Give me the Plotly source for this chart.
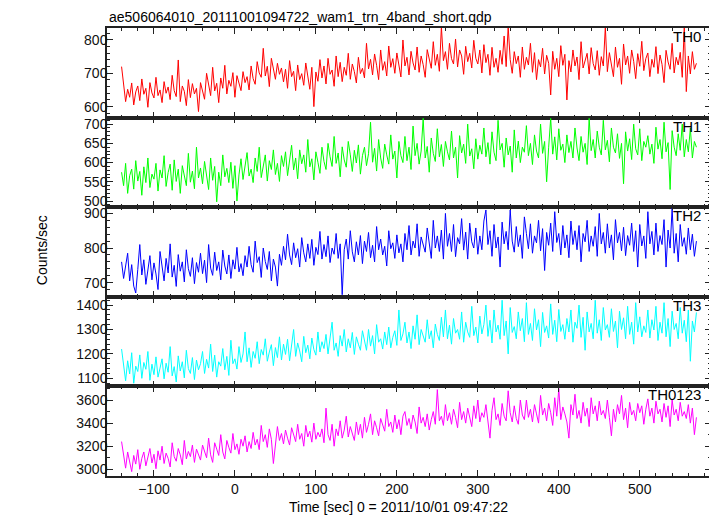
import plotly.graph_objects as go

# ---- data (2.5 s bins, t = -140 ... 570) ----
time_start = -140.0
time_step = 2.5
n_bins = 285
time = [time_start + time_step * i for i in range(n_bins)]

th0 = [720, 668, 615, 652, 628, 671, 605, 644, 662, 618, 683, 637, 655, 598, 672, 641, 626, 688, 633, 650,
       612, 675, 640, 659, 621, 694, 648, 630, 740, 615, 662, 646, 603, 681, 627, 669, 638, 655, 585, 672,
       648, 622, 700, 659, 633, 718, 647, 670, 612, 686, 655, 724, 638, 679, 661, 702, 628, 693, 667, 648,
       705, 672, 690, 650, 722, 684, 667, 735, 701, 688, 775, 692, 721, 660, 745, 708, 682, 730, 697, 716,
       674, 712, 655, 738, 690, 706, 648, 725, 681, 699, 664, 731, 693, 652, 718, 600, 704, 676, 741, 686,
       722, 668, 745, 697, 710, 661, 752, 690, 733, 675, 718, 694, 760, 682, 728, 705, 671, 748, 699, 715,
       686, 790, 713, 742, 695, 758, 724, 681, 770, 709, 735, 692, 782, 718, 744, 700, 761, 727, 689, 800,
       722, 748, 695, 766, 731, 710, 779, 703, 752, 726, 688, 771, 739, 715, 795, 724, 757, 706, 840, 738,
       765, 712, 790, 744, 728, 803, 719, 770, 752, 697, 781, 735, 760, 716, 799, 745, 728, 770, 701, 786,
       732, 757, 694, 778, 718, 745, 703, 769, 727, 812, 720, 840, 741, 700, 765, 729, 752, 688, 779, 712,
       748, 725, 790, 703, 762, 681, 741, 719, 775, 698, 754, 730, 635, 766, 712, 745, 690, 783, 724, 757,
       620, 738, 704, 770, 722, 749, 681, 795, 716, 742, 760, 698, 777, 729, 710, 768, 694, 750, 722, 840,
       705, 762, 731, 690, 779, 718, 745, 667, 788, 725, 752, 700, 770, 736, 684, 759, 721, 796, 708, 744,
       761, 690, 742, 718, 780, 699, 755, 727, 672, 769, 734, 712, 790, 701, 748, 725, 763, 688, 840, 645,
       752, 698, 765, 712, 730]

th1 = [575, 540, 598, 520, 566, 583, 531, 605, 552, 577, 515, 589, 548, 612, 535, 570, 557, 598, 526, 581,
       560, 618, 538, 574, 596, 528, 607, 551, 583, 520, 592, 565, 540, 624, 549, 578, 532, 640, 560, 586,
       545, 603, 571, 530, 612, 554, 590, 498, 575, 540, 620, 563, 585, 548, 601, 533, 592, 500, 568, 610,
       556, 594, 626, 565, 583, 548, 612, 577, 640, 561, 595, 620, 552, 605, 582, 633, 569, 598, 551, 618,
       590, 628, 566, 605, 645, 581, 612, 558, 633, 597, 620, 575, 660, 589, 610, 555, 628, 601, 572, 640,
       603, 582, 650, 615, 590, 668, 598, 625, 563, 641, 607, 588, 655, 620, 577, 632, 599, 646, 570, 618,
       640, 592, 623, 705, 601, 637, 578, 660, 612, 585, 648, 620, 596, 672, 609, 630, 560, 655, 618, 600,
       668, 605, 640, 582, 695, 618, 650, 596, 630, 715, 612, 642, 575, 664, 624, 603, 688, 615, 647, 590,
       655, 628, 607, 682, 612, 640, 560, 670, 625, 648, 598, 700, 617, 636, 584, 662, 609, 645, 622, 690,
       615, 652, 596, 680, 627, 605, 710, 633, 650, 588, 664, 620, 643, 575, 685, 612, 656, 600, 640, 627,
       696, 618, 650, 595, 672, 630, 612, 700, 624, 655, 550, 640, 715, 622, 667, 607, 688, 632, 648, 600,
       672, 626, 655, 612, 690, 638, 605, 668, 627, 650, 595, 715, 631, 660, 612, 682, 640, 620, 710, 633,
       658, 602, 690, 640, 625, 675, 611, 650, 545, 680, 630, 662, 608, 700, 636, 620, 688, 605, 655, 640,
       670, 622, 648, 598, 692, 635, 660, 610, 705, 628, 652, 530, 683, 640, 618, 675, 632, 700, 615, 660,
       628, 690, 612, 655, 640]

th2 = [760, 712, 748, 785, 705, 752, 690, 670, 738, 810, 722, 766, 695, 745, 778, 708, 757, 725, 680, 790,
       742, 705, 770, 728, 812, 716, 750, 689, 781, 733, 760, 702, 795, 740, 718, 772, 697, 758, 730, 785,
       726, 765, 700, 810, 742, 721, 788, 735, 760, 708, 794, 748, 725, 780, 712, 766, 739, 802, 731, 755,
       720, 778, 745, 805, 752, 730, 820, 758, 775, 715, 800, 761, 738, 790, 705, 768, 745, 690, 782, 750,
       805, 766, 840, 780, 752, 815, 772, 798, 745, 830, 786, 760, 812, 770, 825, 750, 802, 781, 848, 768,
       810, 775, 835, 758, 800, 782, 842, 770, 812, 665, 795, 826, 768, 850, 789, 760, 818, 780, 836, 755,
       820, 790, 845, 772, 808, 760, 862, 795, 826, 780, 805, 748, 850, 798, 815, 770, 838, 786, 812, 760,
       842, 795, 865, 780, 820, 800, 870, 776, 832, 805, 788, 858, 812, 770, 880, 800, 835, 790, 852, 768,
       900, 805, 842, 790, 868, 775, 830, 812, 885, 794, 846, 768, 872, 818, 800, 858, 782, 835, 795, 878,
       910, 810, 850, 776, 868, 800, 832, 745, 875, 812, 848, 795, 910, 820, 788, 862, 804, 838, 770, 890,
       842, 798, 870, 785, 835, 815, 880, 792, 856, 735, 845, 808, 872, 790, 905, 816, 842, 780, 865, 800,
       838, 772, 878, 810, 850, 795, 865, 760, 842, 818, 880, 790, 835, 805, 862, 776, 900, 812, 845, 785,
       870, 800, 838, 766, 882, 815, 845, 792, 860, 778, 836, 808, 872, 790, 850, 745, 868, 806, 835, 770,
       905, 812, 848, 780, 872, 790, 836, 810, 882, 745, 852, 800, 915, 785, 842, 760, 868, 805, 830, 782,
       858, 795, 840, 776, 820]

th3 = [1220, 1145, 1090, 1172, 1118, 1205, 1080, 1150, 1128, 1196, 1100, 1165, 1137, 1210, 1092, 1158, 1115, 1188, 1105, 1142,
       1180, 1098, 1162, 1125, 1230, 1110, 1148, 1085, 1192, 1130, 1168, 1102, 1215, 1140, 1120, 1185, 1095, 1175, 1135, 1160,
       1210, 1120, 1178, 1142, 1240, 1128, 1195, 1105, 1168, 1150, 1222, 1135, 1190, 1112, 1256, 1160, 1180, 1138, 1230, 1165,
       1200, 1290, 1168, 1225, 1145, 1210, 1182, 1250, 1160, 1218, 1195, 1262, 1170, 1208, 1238, 1152, 1226, 1185, 1270, 1175,
       1240, 1198, 1260, 1172, 1228, 1300, 1190, 1245, 1212, 1168, 1272, 1205, 1236, 1180, 1265, 1218, 1195, 1290, 1208, 1250,
       1222, 1280, 1200, 1258, 1330, 1215, 1245, 1190, 1275, 1232, 1300, 1208, 1262, 1225, 1288, 1198, 1270, 1240, 1215, 1295,
       1250, 1215, 1300, 1232, 1275, 1200, 1320, 1248, 1262, 1220, 1290, 1238, 1310, 1225, 1268, 1295, 1235, 1380, 1255, 1282,
       1330, 1245, 1290, 1222, 1315, 1260, 1360, 1238, 1300, 1275, 1248, 1340, 1262, 1295, 1225, 1322, 1280, 1255, 1350, 1270,
       1380, 1262, 1318, 1240, 1345, 1285, 1300, 1260, 1372, 1248, 1330, 1290, 1268, 1395, 1275, 1310, 1245, 1355, 1282, 1320,
       1400, 1272, 1338, 1245, 1380, 1290, 1318, 1260, 1420, 1275, 1335, 1200, 1390, 1288, 1312, 1262, 1372, 1295, 1345, 1250,
       1410, 1280, 1325, 1255, 1385, 1298, 1340, 1230, 1370, 1288, 1315, 1265, 1405, 1280, 1338, 1250, 1382, 1292, 1320, 1260,
       1345, 1290, 1380, 1248, 1330, 1305, 1400, 1268, 1350, 1215, 1372, 1290, 1325, 1262, 1420, 1285, 1340, 1255, 1390, 1298,
       1320, 1268, 1385, 1292, 1335, 1225, 1375, 1300, 1348, 1262, 1395, 1280, 1330, 1240, 1410, 1290, 1352, 1270, 1315, 1288,
       1380, 1265, 1340, 1298, 1395, 1255, 1330, 1285, 1410, 1270, 1345, 1230, 1375, 1300, 1325, 1262, 1390, 1285, 1338, 1250,
       1380, 1170, 1335, 1290, 1370]

th0123 = [3240, 3120, 3010, 3150, 3060, 2980, 3120, 3045, 3170, 3000, 3095, 3150, 3030, 3110, 3180, 3055, 3130, 3005, 3160, 3080,
          3200, 3050, 3140, 3095, 3020, 3230, 3110, 3070, 3180, 3125, 3040, 3250, 3090, 3155, 3110, 3210, 3060, 3175, 3130, 3080,
          3210, 3150, 3100, 3270, 3125, 3060, 3230, 3175, 3120, 3300, 3150, 3090, 3250, 3190, 3140, 3310, 3170, 3220, 3130, 3260,
          3200, 3290, 3150, 3240, 3180, 3320, 3210, 3260, 3170, 3380, 3240, 3300, 3190, 3350, 3260, 3050, 3220, 3370, 3250, 3310,
          3220, 3340, 3270, 3210, 3360, 3290, 3240, 3390, 3260, 3310, 3200, 3380, 3280, 3330, 3235, 3400, 3260, 3320, 3280, 3350,
          3230, 3530, 3300, 3250, 3390, 3200, 3350, 3290, 3420, 3270, 3340, 3460, 3280, 3370, 3310, 3250, 3410, 3300, 3390, 3270,
          3450, 3320, 3390, 3480, 3300, 3420, 3360, 3290, 3440, 3380, 3330, 3520, 3370, 3410, 3320, 3470, 3350, 3430, 3300, 3460,
          3500, 3380, 3440, 3350, 3470, 3410, 3310, 3540, 3400, 3450, 3370, 3480, 3340, 3430, 3500, 3390, 3690, 3420, 3460, 3380,
          3560, 3420, 3490, 3390, 3520, 3450, 3360, 3580, 3430, 3500, 3400, 3530, 3460, 3370, 3550, 3440, 3600, 3410, 3490, 3450,
          3560, 3400, 3270, 3510, 3620, 3430, 3480, 3380, 3570, 3460, 3420, 3680, 3490, 3410, 3550, 3440, 3390, 3600, 3470, 3430,
          3600, 3450, 3520, 3410, 3560, 3480, 3400, 3640, 3470, 3530, 3420, 3570, 3490, 3380, 3620, 3460, 3700, 3430, 3540, 3480,
          3410, 3270, 3560, 3470, 3650, 3440, 3510, 3400, 3580, 3460, 3530, 3370, 3620, 3480, 3550, 3420, 3590, 3470, 3510, 3440,
          3600, 3450, 3290, 3520, 3410, 3560, 3480, 3640, 3430, 3530, 3360, 3580, 3470, 3510, 3420, 3570, 3490, 3550, 3390, 3520,
          3610, 3460, 3530, 3400, 3590, 3480, 3520, 3410, 3570, 3450, 3550, 3370, 3600, 3470, 3520, 3420, 3580, 3460, 3500, 3440,
          3560, 3400, 3530, 3300, 3450]

band_names = ["TH0", "TH1", "TH2", "TH3", "TH0123"]
band_values = [th0, th1, th2, th3, th0123]
band_colors = ["#ff0000", "#00ff00", "#0000ff", "#00ffff", "#ff00ff"]
y_ranges = [[567, 836], [484, 717], [659, 918], [1067, 1434], [2942, 3718]]
y_dticks = [100, 50, 100, 100, 200]
y_minor = [20, 10, 20, 20, 100]
x_range = [-158, 588]
x_dtick = 100
x_minor = 20

title_text = "ae506064010_20111001094722_wam1_trn_4band_short.qdp"
x_title = "Time [sec] 0 = 2011/10/01 09:47:22"
y_title = "Counts/sec"

# ---- figure ----
FONT = "Liberation Sans, Arial, Helvetica, sans-serif"
AX = "#222"
fig = go.Figure()
layout = {}
n = len(band_names)
for k in range(n):
    sx = "" if k == 0 else str(k + 1)
    fig.add_trace(go.Scatter(x=time, y=band_values[k], mode="lines",
                             line=dict(color=band_colors[k], width=1),
                             name=band_names[k], showlegend=False,
                             xaxis="x" + sx, yaxis="y" + sx))
    common = dict(ticks="inside", ticklen=6, tickwidth=1, tickcolor=AX,
                  showline=True, linecolor=AX, linewidth=1.5,
                  mirror="ticks", showgrid=False, zeroline=False,
                  tickfont=dict(size=14, color="#111", family=FONT))
    layout["xaxis" + sx] = dict(
        domain=[0, 1], anchor="y" + sx, range=x_range, dtick=x_dtick,
        minor=dict(ticks="inside", dtick=x_minor, ticklen=3,
                   tickcolor=AX, tickwidth=1),
        showticklabels=(k == n - 1), ticklabelstandoff=-1, **common)
    layout["yaxis" + sx] = dict(
        domain=[1 - (k + 1) / n, 1 - k / n], anchor="x" + sx,
        range=y_ranges[k], dtick=y_dticks[k],
        minor=dict(ticks="inside", dtick=y_minor[k], ticklen=3,
                   tickcolor=AX, tickwidth=1),
        ticklabelstandoff=-5, **common)
    fig.add_annotation(text=band_names[k], x=0.987, y=0.905,
                       xref="x" + sx + " domain", yref="y" + sx + " domain",
                       xanchor="right", yanchor="middle", showarrow=False,
                       font=dict(size=15, color="#000", family=FONT))

fig.add_annotation(text=title_text, x=0.0, y=1.025, xref="paper",
                   yref="paper", xanchor="left", yanchor="middle",
                   showarrow=False, font=dict(size=14, color="#000", family=FONT))
fig.add_annotation(text=x_title, x=0.482, y=-0.069, xref="paper",
                   yref="paper", xanchor="center", yanchor="middle",
                   showarrow=False, font=dict(size=14, color="#000", family=FONT))
fig.add_annotation(text=y_title, x=-0.1076, y=0.504, xref="paper",
                   yref="paper", xanchor="center", yanchor="middle",
                   textangle=-90, showarrow=False,
                   font=dict(size=14, color="#000", family=FONT))

# the page body keeps its 8 px default margin, so margins compensate for it
fig.update_layout(width=717, height=516,
                  margin=dict(l=99, r=14, t=20, b=48),
                  paper_bgcolor="white", plot_bgcolor="white",
                  font=dict(family=FONT), **layout)

fig.write_html("out.html")
